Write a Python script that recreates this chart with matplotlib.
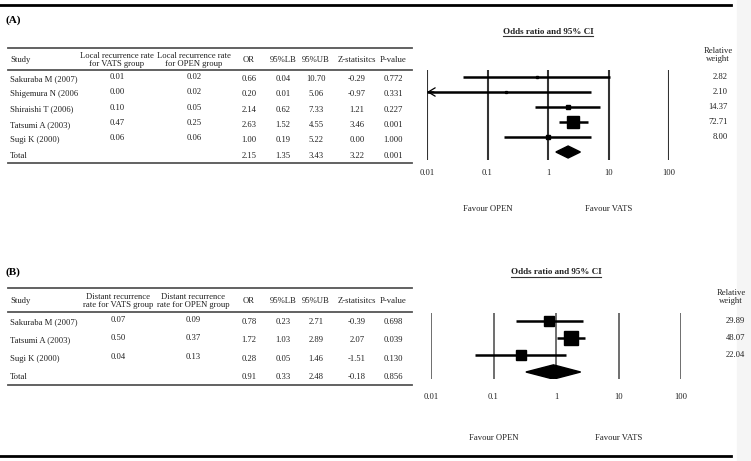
import numpy as np
import matplotlib.pyplot as plt
from matplotlib.patches import Polygon, Rectangle

plt.rcParams['font.family'] = ['Liberation Serif', 'DejaVu Serif']

# ---- panel A data: local recurrence ----
estudios_a = ["Sakuraba M (2007)", "Shigemura N (2006", "Shiraishi T (2006)", "Tatsumi A (2003)", "Sugi K (2000)"]
vats_a = [0.01, 0.00, 0.10, 0.47, 0.06]
open_a = [0.02, 0.02, 0.05, 0.25, 0.06]
or_a = [0.66, 0.20, 2.14, 2.63, 1.00]
lb_a = [0.04, 0.01, 0.62, 1.52, 0.19]
ub_a = [10.70, 5.06, 7.33, 4.55, 5.22]
z_a = [-0.29, -0.97, 1.21, 3.46, 0.00]
p_a = [0.772, 0.331, 0.227, 0.001, 1.000]
peso_a = [2.82, 2.10, 14.37, 72.71, 8.00]
total_a = [2.15, 1.35, 3.43, 3.22, 0.001]

# ---- panel B data: distant recurrence ----
estudios_b = ["Sakuraba M (2007)", "Tatsumi A (2003)", "Sugi K (2000)"]
vats_b = [0.07, 0.50, 0.04]
open_b = [0.09, 0.37, 0.13]
or_b = [0.78, 1.72, 0.28]
lb_b = [0.23, 1.03, 0.05]
ub_b = [2.71, 2.89, 1.46]
z_b = [-0.39, 2.07, -1.51]
p_b = [0.698, 0.039, 0.130]
peso_b = [29.89, 48.07, 22.04]
total_b = [0.91, 0.33, 2.48, -0.18, 0.856]

ticks = [0.01, 0.1, 1, 10, 100]
tick_labels = ["0.01", "0.1", "1", "10", "100"]

W, H = 751, 461
fig = plt.figure(figsize=(W / 100, H / 100), dpi=100)
bg = fig.add_axes([0, 0, 1, 1])
bg.set_xlim(0, W)
bg.set_ylim(H, 0)
bg.axis('off')

FS = 6.2
TC = '#222222'
bg.add_patch(Rectangle((737, 0), 14, H, color='#f5f5f5', zorder=0))

# bordes
bg.plot([0, 731], [5, 5], color='black', lw=2)
bg.plot([0, 731], [456, 456], color='black', lw=2)


def tabla(y_top, y_head, y_bot, y_rows, header_y, etiqueta, etiqueta_y,
          col_v, col_o, h1, h2, estudios, vats, opn, ors, lbs, ubs, zs, ps, total):
    bg.text(5, etiqueta_y, etiqueta, fontsize=8, fontweight='bold', va='center', color='black')
    for y in (y_top, y_head, y_bot):
        bg.plot([8, 412], [y, y], color='#555555', lw=1.3)
    bg.text(10, header_y, "Study", fontsize=FS, va='center', color=TC)
    bg.text(col_v, header_y, h1, fontsize=FS, va='center', ha='center', color=TC, linespacing=1.05)
    bg.text(col_o, header_y, h2, fontsize=FS, va='center', ha='center', color=TC, linespacing=1.05)
    cols = [249, 283, 316, 357, 393]
    for c, t in zip(cols, ["OR", "95%LB", "95%UB", "Z-statisitcs", "P-value"]):
        bg.text(c, header_y, t, fontsize=FS, va='center', ha='center', color=TC)
    for i, nombre in enumerate(estudios):
        y = y_rows[i]
        bg.text(10, y, nombre, fontsize=FS, va='center', color=TC)
        bg.text(col_v, y - 2, f"{vats[i]:.2f}", fontsize=FS, va='center', ha='center', color=TC)
        bg.text(col_o, y - 2, f"{opn[i]:.2f}", fontsize=FS, va='center', ha='center', color=TC)
        vals = [f"{ors[i]:.2f}", f"{lbs[i]:.2f}", f"{ubs[i]:.2f}", f"{zs[i]:.2f}", f"{ps[i]:.3f}"]
        for c, v in zip(cols, vals):
            bg.text(c, y, v, fontsize=FS, va='center', ha='center', color=TC)
    y = y_rows[len(estudios)]
    bg.text(10, y, "Total", fontsize=FS, va='center', color=TC)
    vals = [f"{total[0]:.2f}", f"{total[1]:.2f}", f"{total[2]:.2f}", f"{total[3]:.2f}", f"{total[4]:.3f}"]
    for c, v in zip(cols, vals):
        bg.text(c, y, v, fontsize=FS, va='center', ha='center', color=TC)


def forest(px_left, px_right, px_top, px_bot, row0, paso, ors, lbs, ubs, pesos, total,
           escala, h_diam, linecol, linew, pad, title_y, title_x, rel_x, rel_y, w_x, favour_y):
    ax = fig.add_axes([px_left / W, 1 - px_bot / H, (px_right - px_left) / W, (px_bot - px_top) / H])
    ax.set_xscale('log')
    ax.set_xlim(0.01, 100)
    ax.set_ylim((px_bot - row0) / paso, (px_top - row0) / paso)
    for s in ax.spines.values():
        s.set_visible(False)
    ax.set_yticks([])
    ax.set_xticks(ticks)
    ax.set_xticklabels(tick_labels, fontsize=FS, color=TC)
    ax.minorticks_off()
    ax.tick_params(axis='x', length=0, pad=pad)
    ax.patch.set_alpha(0)
    for t in ticks:
        ax.axvline(t, color=linecol, lw=linew, zorder=1)
    for i in range(len(ors)):
        ax.plot([max(lbs[i], 0.01), ubs[i]], [i, i], color='black', lw=1.8, zorder=2,
                solid_capstyle='butt', clip_on=False)
        if lbs[i] <= 0.01:
            # open arrowhead when CI runs past the axis
            ax.annotate("", xy=(0.01, i), xytext=(0.013, i),
                        arrowprops=dict(arrowstyle='->,head_length=0.5,head_width=0.3', lw=0.9,
                                        color='black', shrinkA=0, shrinkB=0))
        ax.plot(ors[i], i, marker='s', color='black', ms=escala * np.sqrt(pesos[i]) / 1.389, zorder=3)
        bg.text(w_x, row0 + paso * i, f"{pesos[i]:.2f}", fontsize=FS, va='center', ha='right', color=TC)
    n = len(ors)
    diam = [(total[1], n), (total[0], n - h_diam), (total[2], n), (total[0], n + h_diam)]
    ax.add_patch(Polygon(diam, closed=True, color='black', zorder=3))

    bg.text(title_x, title_y, "Odds ratio and 95% CI", fontsize=6.5, fontweight='bold',
            ha='center', va='center', color=TC)
    bg.plot([title_x - 45, title_x + 45], [title_y + 4.5, title_y + 4.5], color='#333333', lw=0.8)
    bg.text(rel_x, rel_y, "Relative\nweight", fontsize=FS, ha='center', va='center', color=TC,
            linespacing=1.1)
    bg.text(px_left + (px_right - px_left) * 0.25, favour_y, "Favour OPEN", fontsize=FS,
            ha='center', va='center', color=TC)
    bg.text(px_left + (px_right - px_left) * 0.75, favour_y, "Favour VATS", fontsize=FS,
            ha='center', va='center', color=TC)


# panel A
filas_a = [79 + 15.3 * i for i in range(6)]
tabla(48, 70, 163, filas_a, 60, "(A)", 20, 117, 194,
      "Local recurrence rate\nfor VATS group", "Local recurrence rate\nfor OPEN group",
      estudios_a, vats_a, open_a, or_a, lb_a, ub_a, z_a, p_a, total_a)
forest(427, 669, 70, 160, 77, 15, or_a, lb_a, ub_a, peso_a, total_a,
       escala=1.3, h_diam=0.4, linecol='#333333', linew=1.5, pad=6.3,
       title_y=32, title_x=548, rel_x=718, rel_y=55, w_x=728, favour_y=209)

# panel B
filas_b = [322 + 18.3 * i for i in range(4)]
tabla(288, 312, 385, filas_b, 301, "(B)", 272, 118, 193,
      "Distant recurrence\nrate for VATS group", "Distant recurrence\nrate for OPEN group",
      estudios_b, vats_b, open_b, or_b, lb_b, ub_b, z_b, p_b, total_b)
forest(431, 681, 313, 379, 321, 17, or_b, lb_b, ub_b, peso_b, total_b,
       escala=2.0, h_diam=0.42, linecol='#555555', linew=1.2, pad=10,
       title_y=272, title_x=556, rel_x=731, rel_y=297, w_x=745, favour_y=438)

fig.savefig("out.png", dpi=100)
